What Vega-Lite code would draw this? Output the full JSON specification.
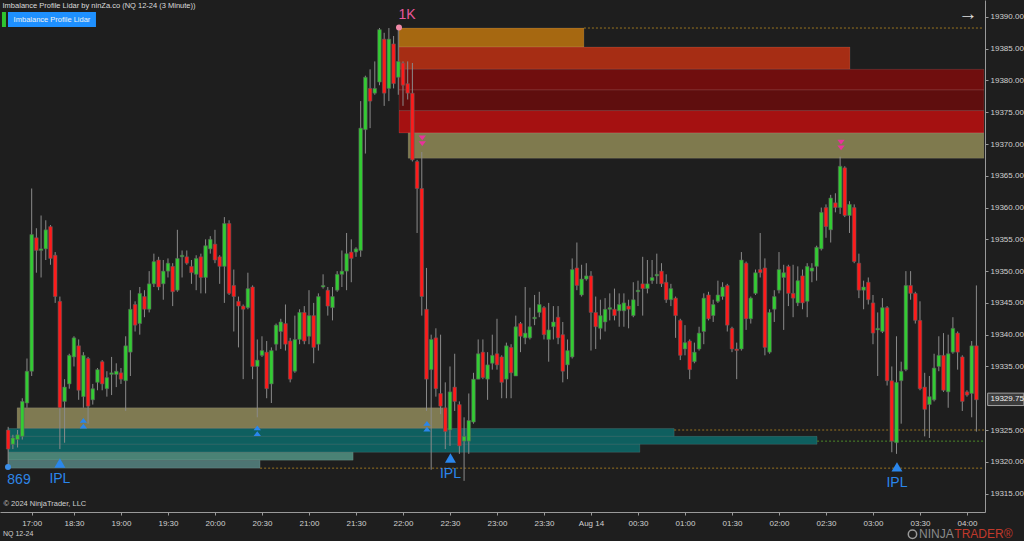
{
"$schema":"https://vega.github.io/schema/vega-lite/v6.json",
"width":985,"height":512,
"autosize":{"type":"none"},
"padding":{"left":0,"top":0,"right":39,"bottom":29},
"background":"#1e1e1e",
"config":{"view":{"stroke":null},"font":"Liberation Sans","text":{"font":"Liberation Sans"},"axis":{"labelOverlap":false},"scale":{"continuousPadding":0}},
"datasets":{
"candles":[
{"k":-14,"o":19325,"h":19325.5,"l":19319.25,"c":19322},
{"k":-13,"o":19322.75,"h":19324.25,"l":19322,"c":19323.75},
{"k":-12,"o":19323.5,"h":19325,"l":19322.25,"c":19324.25},
{"k":-11,"o":19324,"h":19330,"l":19323.5,"c":19329.5},
{"k":-10,"o":19329.25,"h":19336.25,"l":19328.5,"c":19334.25},
{"k":-9,"o":19334.25,"h":19363,"l":19333.5,"c":19355.75},
{"k":-8,"o":19355.25,"h":19356.75,"l":19349.75,"c":19353.25},
{"k":-7,"o":19353.25,"h":19358.75,"l":19349,"c":19353.5},
{"k":-6,"o":19353.5,"h":19358,"l":19351.75,"c":19356.5},
{"k":-5,"o":19357,"h":19357.25,"l":19351,"c":19352},
{"k":-4,"o":19352.5,"h":19353,"l":19345,"c":19346},
{"k":-3,"o":19345.25,"h":19346,"l":19322,"c":19328.5},
{"k":-2,"o":19329.5,"h":19333,"l":19323,"c":19331.75},
{"k":-1,"o":19332.25,"h":19337,"l":19331.5,"c":19336.75},
{"k":0,"o":19336.5,"h":19339.75,"l":19335,"c":19339.5},
{"k":1,"o":19338.25,"h":19339.25,"l":19329.75,"c":19331.25},
{"k":2,"o":19330.25,"h":19337.25,"l":19328.5,"c":19336.75},
{"k":3,"o":19336.25,"h":19336.5,"l":19326,"c":19328.75},
{"k":4,"o":19329.75,"h":19332.25,"l":19329,"c":19331.5},
{"k":5,"o":19332.5,"h":19334.75,"l":19331.25,"c":19334.5},
{"k":6,"o":19335.75,"h":19336,"l":19331.25,"c":19332.25},
{"k":7,"o":19331.5,"h":19334.25,"l":19330.25,"c":19333.25},
{"k":8,"o":19333.75,"h":19336.5,"l":19330.5,"c":19334},
{"k":9,"o":19333.75,"h":19335.5,"l":19331.75,"c":19334.25},
{"k":10,"o":19334,"h":19334.75,"l":19332.25,"c":19333},
{"k":11,"o":19332.75,"h":19339.75,"l":19328,"c":19338.25},
{"k":12,"o":19337.25,"h":19347,"l":19333.5,"c":19344},
{"k":13,"o":19344.75,"h":19345.25,"l":19340.5,"c":19341.5},
{"k":14,"o":19341.75,"h":19347.5,"l":19340,"c":19346.5},
{"k":15,"o":19346,"h":19347,"l":19342.75,"c":19344},
{"k":16,"o":19344,"h":19350,"l":19343.5,"c":19348},
{"k":17,"o":19348,"h":19352.75,"l":19347.5,"c":19351.5},
{"k":18,"o":19351.75,"h":19352.25,"l":19347,"c":19347.5},
{"k":19,"o":19348,"h":19351.75,"l":19345.5,"c":19350},
{"k":20,"o":19350,"h":19352,"l":19349,"c":19351.25},
{"k":21,"o":19350.75,"h":19351.25,"l":19344.5,"c":19346.75},
{"k":22,"o":19347,"h":19356.5,"l":19346.75,"c":19352},
{"k":23,"o":19352.25,"h":19353.25,"l":19349,"c":19352.5},
{"k":24,"o":19352.25,"h":19353.25,"l":19351,"c":19351.25},
{"k":25,"o":19350.75,"h":19351.75,"l":19348,"c":19349.75},
{"k":26,"o":19349.5,"h":19352.5,"l":19347,"c":19352},
{"k":27,"o":19352.25,"h":19352.75,"l":19346.5,"c":19349},
{"k":28,"o":19349,"h":19355,"l":19346.5,"c":19354},
{"k":29,"o":19353.5,"h":19355.5,"l":19352.75,"c":19355},
{"k":30,"o":19354.25,"h":19356.5,"l":19351.25,"c":19351.75},
{"k":31,"o":19352.25,"h":19352.5,"l":19348,"c":19350.75},
{"k":32,"o":19350.75,"h":19358.5,"l":19345,"c":19357.5},
{"k":33,"o":19357.5,"h":19358,"l":19346.25,"c":19346.5},
{"k":34,"o":19347.75,"h":19350.25,"l":19340.5,"c":19346},
{"k":35,"o":19345.25,"h":19346,"l":19338,"c":19344.5},
{"k":36,"o":19344.5,"h":19344.75,"l":19333,"c":19344},
{"k":37,"o":19344.25,"h":19349.75,"l":19344,"c":19347.25},
{"k":38,"o":19347.5,"h":19347.75,"l":19333,"c":19335},
{"k":39,"o":19335,"h":19339.25,"l":19327,"c":19336},
{"k":40,"o":19336.75,"h":19339.75,"l":19336.5,"c":19337.5},
{"k":41,"o":19337.25,"h":19339,"l":19330,"c":19331.5},
{"k":42,"o":19332.25,"h":19338,"l":19329.25,"c":19337.5},
{"k":43,"o":19338.5,"h":19341.75,"l":19337.5,"c":19341.5},
{"k":44,"o":19340.5,"h":19342.5,"l":19337.75,"c":19342},
{"k":45,"o":19341.75,"h":19344.75,"l":19337.5,"c":19338.5},
{"k":46,"o":19339,"h":19339.5,"l":19332.5,"c":19333},
{"k":47,"o":19334.25,"h":19343,"l":19334,"c":19339.25},
{"k":48,"o":19339.25,"h":19344,"l":19338.5,"c":19343.5},
{"k":49,"o":19343.5,"h":19344.5,"l":19338.5,"c":19339},
{"k":50,"o":19339.75,"h":19347,"l":19338.5,"c":19343},
{"k":51,"o":19343,"h":19345,"l":19335.5,"c":19338},
{"k":52,"o":19338.5,"h":19346.5,"l":19337.5,"c":19346},
{"k":53,"o":19347.5,"h":19349.5,"l":19347.25,"c":19347.75},
{"k":54,"o":19347,"h":19347.5,"l":19343,"c":19344.5},
{"k":55,"o":19344.25,"h":19347.5,"l":19342.25,"c":19346},
{"k":56,"o":19347,"h":19350,"l":19346.75,"c":19349.5},
{"k":57,"o":19349.5,"h":19353.25,"l":19347.5,"c":19350},
{"k":58,"o":19350,"h":19356,"l":19347,"c":19352.75},
{"k":59,"o":19353,"h":19355,"l":19348.25,"c":19352},
{"k":60,"o":19353,"h":19353.75,"l":19352.25,"c":19353.5},
{"k":61,"o":19353.25,"h":19376.75,"l":19352.25,"c":19372.5},
{"k":62,"o":19372.25,"h":19380.75,"l":19368.5,"c":19380.5},
{"k":63,"o":19378.75,"h":19381.75,"l":19372.5,"c":19376.75},
{"k":64,"o":19378,"h":19383,"l":19377.75,"c":19378.75},
{"k":65,"o":19379.75,"h":19388.25,"l":19379.25,"c":19388},
{"k":66,"o":19386.5,"h":19387.5,"l":19376,"c":19378},
{"k":67,"o":19378.75,"h":19388.25,"l":19376.75,"c":19386.5},
{"k":68,"o":19385.75,"h":19387,"l":19378.75,"c":19379.5},
{"k":69,"o":19380.5,"h":19388.5,"l":19377.75,"c":19383},
{"k":70,"o":19382.75,"h":19383,"l":19376,"c":19379.25},
{"k":71,"o":19379.5,"h":19383,"l":19377,"c":19378},
{"k":72,"o":19378,"h":19382.75,"l":19367.25,"c":19367.5},
{"k":73,"o":19367.25,"h":19367.5,"l":19356,"c":19363},
{"k":74,"o":19363,"h":19368.75,"l":19343,"c":19346},
{"k":75,"o":19344,"h":19350.5,"l":19328,"c":19333},
{"k":76,"o":19334.5,"h":19340,"l":19318.75,"c":19339.25},
{"k":77,"o":19339.5,"h":19341,"l":19330.25,"c":19331.5},
{"k":78,"o":19330.75,"h":19340,"l":19327.5,"c":19328.75},
{"k":79,"o":19328.5,"h":19332.5,"l":19322,"c":19324.75},
{"k":80,"o":19325,"h":19335,"l":19322.5,"c":19331},
{"k":81,"o":19331.75,"h":19337,"l":19328,"c":19329.5},
{"k":82,"o":19329,"h":19329.5,"l":19321.25,"c":19322.5},
{"k":83,"o":19323.25,"h":19327,"l":19317,"c":19324},
{"k":84,"o":19323.25,"h":19330.75,"l":19321.25,"c":19326.5},
{"k":85,"o":19326.25,"h":19334,"l":19326,"c":19333},
{"k":86,"o":19333,"h":19339.25,"l":19333,"c":19337},
{"k":87,"o":19337.25,"h":19339.25,"l":19333,"c":19333.25},
{"k":88,"o":19333,"h":19337.25,"l":19329.75,"c":19335.25},
{"k":89,"o":19335.5,"h":19340,"l":19334.5,"c":19336.75},
{"k":90,"o":19337,"h":19342.5,"l":19334.5,"c":19335.25},
{"k":91,"o":19336.5,"h":19336.75,"l":19330,"c":19332.5},
{"k":92,"o":19333,"h":19338.75,"l":19330,"c":19338.25},
{"k":93,"o":19338,"h":19338.5,"l":19330,"c":19334},
{"k":94,"o":19333.5,"h":19343,"l":19333.5,"c":19341.25},
{"k":95,"o":19341.75,"h":19342,"l":19337.25,"c":19339.75},
{"k":96,"o":19339.5,"h":19347.5,"l":19338.5,"c":19340.25},
{"k":97,"o":19339.5,"h":19344.25,"l":19339.25,"c":19341.25},
{"k":98,"o":19342.5,"h":19346.25,"l":19341.5,"c":19342.75},
{"k":99,"o":19343.5,"h":19346.75,"l":19342.75,"c":19344.75},
{"k":100,"o":19344.25,"h":19344.5,"l":19339.25,"c":19340},
{"k":101,"o":19339.25,"h":19345,"l":19335.75,"c":19340.75},
{"k":102,"o":19341.25,"h":19344.5,"l":19339.25,"c":19342},
{"k":103,"o":19342.75,"h":19344.5,"l":19338.5,"c":19339.5},
{"k":104,"o":19340,"h":19342,"l":19332.5,"c":19334.25},
{"k":105,"o":19335.25,"h":19339.25,"l":19333,"c":19337.5},
{"k":106,"o":19336.5,"h":19352,"l":19336.25,"c":19350.25},
{"k":107,"o":19350.5,"h":19354.5,"l":19347,"c":19347.75},
{"k":108,"o":19346.25,"h":19351,"l":19346,"c":19348.75},
{"k":109,"o":19348.75,"h":19351.25,"l":19348.5,"c":19349.25},
{"k":110,"o":19349.25,"h":19350,"l":19337.5,"c":19343.5},
{"k":111,"o":19343.5,"h":19346,"l":19337.75,"c":19341.25},
{"k":112,"o":19341,"h":19345.5,"l":19339.25,"c":19343},
{"k":113,"o":19342,"h":19345.75,"l":19340.5,"c":19344},
{"k":114,"o":19344,"h":19346.5,"l":19342.25,"c":19344.25},
{"k":115,"o":19344,"h":19347.25,"l":19342.25,"c":19343},
{"k":116,"o":19343.75,"h":19346.5,"l":19341.25,"c":19344.75},
{"k":117,"o":19343.75,"h":19346.5,"l":19341.25,"c":19345},
{"k":118,"o":19344.5,"h":19345.5,"l":19341,"c":19344},
{"k":119,"o":19343,"h":19348.25,"l":19342.75,"c":19345.5},
{"k":120,"o":19346.75,"h":19348.5,"l":19344.5,"c":19347},
{"k":121,"o":19348,"h":19352.25,"l":19343,"c":19347.25},
{"k":122,"o":19347.25,"h":19351.75,"l":19346.5,"c":19348},
{"k":123,"o":19348.5,"h":19351.75,"l":19348,"c":19349},
{"k":124,"o":19349.25,"h":19352.75,"l":19348,"c":19349.5},
{"k":125,"o":19350,"h":19351.25,"l":19347.5,"c":19348},
{"k":126,"o":19348.25,"h":19349.5,"l":19345,"c":19345.5},
{"k":127,"o":19345.5,"h":19348,"l":19344.5,"c":19347.25},
{"k":128,"o":19345.75,"h":19346,"l":19339.5,"c":19343},
{"k":129,"o":19342.25,"h":19342.5,"l":19336,"c":19336.75},
{"k":130,"o":19337.75,"h":19341.5,"l":19336.75,"c":19338.75},
{"k":131,"o":19339,"h":19339.25,"l":19333,"c":19334.5},
{"k":132,"o":19335.75,"h":19338.75,"l":19335.5,"c":19337.25},
{"k":133,"o":19337.75,"h":19341.25,"l":19337.5,"c":19340.25},
{"k":134,"o":19340.5,"h":19346.5,"l":19338.5,"c":19345.75},
{"k":135,"o":19346.25,"h":19346.75,"l":19342.25,"c":19342.5},
{"k":136,"o":19343,"h":19345.5,"l":19342,"c":19344.75},
{"k":137,"o":19345.25,"h":19348.5,"l":19345,"c":19346.25},
{"k":138,"o":19346,"h":19348.25,"l":19345.5,"c":19347.5},
{"k":139,"o":19347.75,"h":19348,"l":19340.5,"c":19341.5},
{"k":140,"o":19341,"h":19341.25,"l":19337.25,"c":19337.75},
{"k":141,"o":19337.75,"h":19338.75,"l":19333,"c":19337.5},
{"k":142,"o":19337.75,"h":19353,"l":19337.5,"c":19351.75},
{"k":143,"o":19351.25,"h":19351.5,"l":19340.75,"c":19342.5},
{"k":144,"o":19342.5,"h":19346,"l":19341.75,"c":19345.75},
{"k":145,"o":19346.5,"h":19350.25,"l":19346.25,"c":19349.75},
{"k":146,"o":19350.25,"h":19356,"l":19349,"c":19349.75},
{"k":147,"o":19350.5,"h":19352,"l":19336.75,"c":19338},
{"k":148,"o":19337.25,"h":19344,"l":19337,"c":19343.5},
{"k":149,"o":19344,"h":19347,"l":19342,"c":19346},
{"k":150,"o":19347,"h":19353,"l":19346.5,"c":19350.25},
{"k":151,"o":19349,"h":19351,"l":19340.75,"c":19349.75},
{"k":152,"o":19350.75,"h":19351,"l":19344.5,"c":19346.5},
{"k":153,"o":19346.5,"h":19351,"l":19342.75,"c":19345.75},
{"k":154,"o":19345,"h":19350.75,"l":19344.5,"c":19348.5},
{"k":155,"o":19349.25,"h":19350.25,"l":19344,"c":19345},
{"k":156,"o":19345.25,"h":19351.25,"l":19342.75,"c":19350.75},
{"k":157,"o":19350,"h":19351.25,"l":19348.25,"c":19350.5},
{"k":158,"o":19350.75,"h":19354,"l":19348.5,"c":19353.75},
{"k":159,"o":19353.5,"h":19360,"l":19353.25,"c":19359.25},
{"k":160,"o":19360,"h":19360.5,"l":19355.25,"c":19357},
{"k":161,"o":19356.5,"h":19362,"l":19354.5,"c":19361.5},
{"k":162,"o":19360.75,"h":19362.25,"l":19359.25,"c":19360},
{"k":163,"o":19360,"h":19368,"l":19359,"c":19366.5},
{"k":164,"o":19366.25,"h":19366.5,"l":19358.5,"c":19358.75},
{"k":165,"o":19358.75,"h":19361,"l":19356,"c":19360.5},
{"k":166,"o":19360,"h":19360.5,"l":19351.25,"c":19351.5},
{"k":167,"o":19351.25,"h":19352.75,"l":19345.75,"c":19347},
{"k":168,"o":19347,"h":19348.5,"l":19344,"c":19347.5},
{"k":169,"o":19348.25,"h":19349,"l":19344.75,"c":19345.5},
{"k":170,"o":19345,"h":19346.25,"l":19338.5,"c":19340.25},
{"k":171,"o":19340.75,"h":19343.5,"l":19333.5,"c":19341},
{"k":172,"o":19340.5,"h":19345.75,"l":19340.25,"c":19344.25},
{"k":173,"o":19344.25,"h":19344.5,"l":19332,"c":19332.75},
{"k":174,"o":19332.75,"h":19335,"l":19321.5,"c":19323.25},
{"k":175,"o":19323,"h":19339.75,"l":19321.25,"c":19332.5},
{"k":176,"o":19332.75,"h":19335.75,"l":19326,"c":19334.25},
{"k":177,"o":19334.5,"h":19350,"l":19334.25,"c":19347.75},
{"k":178,"o":19347.75,"h":19350,"l":19345.5,"c":19346.5},
{"k":179,"o":19346.5,"h":19346.75,"l":19341.75,"c":19342.25},
{"k":180,"o":19342.25,"h":19345.25,"l":19331.25,"c":19331.5},
{"k":181,"o":19331.75,"h":19334,"l":19324,"c":19328.25},
{"k":182,"o":19329,"h":19333.5,"l":19323.75,"c":19330.25},
{"k":183,"o":19329.75,"h":19337,"l":19329.5,"c":19334.75},
{"k":184,"o":19335,"h":19339.75,"l":19334.25,"c":19336.75},
{"k":185,"o":19336.75,"h":19340.25,"l":19331,"c":19331.25},
{"k":186,"o":19331,"h":19340,"l":19328.5,"c":19337},
{"k":187,"o":19337.25,"h":19342.75,"l":19337,"c":19341},
{"k":188,"o":19340.25,"h":19340.5,"l":19334.5,"c":19337.25},
{"k":189,"o":19336.5,"h":19336.75,"l":19328,"c":19329.5},
{"k":190,"o":19331,"h":19331.25,"l":19330.25,"c":19330.5},
{"k":191,"o":19330.75,"h":19339,"l":19327,"c":19338.25},
{"k":192,"o":19338.25,"h":19347.75,"l":19324.75,"c":19329.75}
],
"zones":[
{"k1":69.15,"k2":108.5,"p1":19388.25,"p2":19385.25,"z":"s1"},
{"k1":69.15,"k2":165.1,"p1":19385.25,"p2":19381.75,"z":"s2"},
{"k1":69.15,"k2":193.6,"p1":19381.75,"p2":19378.5,"z":"s3"},
{"k1":69.15,"k2":193.6,"p1":19378.5,"p2":19375.25,"z":"s4"},
{"k1":69.15,"k2":193.6,"p1":19375.25,"p2":19371.75,"z":"s5"},
{"k1":71.1,"k2":193.6,"p1":19371.75,"p2":19367.75,"z":"s6"},
{"k1":-12.1,"k2":78.5,"p1":19328.5,"p2":19325.25,"z":"d0"},
{"k1":-14,"k2":127.7,"p1":19325.25,"p2":19324,"z":"d1"},
{"k1":-14,"k2":158.1,"p1":19324,"p2":19322.75,"z":"d2"},
{"k1":-14,"k2":120.4,"p1":19322.75,"p2":19321.5,"z":"d3"},
{"k1":-14,"k2":59.4,"p1":19321.5,"p2":19320.25,"z":"d4"},
{"k1":-14,"k2":39.6,"p1":19320.25,"p2":19319,"z":"d5"}
],
"lines":[
{"k1":108.5,"k2":193.6,"p":19388.25,"kind":"o"},
{"k1":127.7,"k2":193.6,"p":19325,"kind":"o"},
{"k1":158.1,"k2":193.6,"p":19323.25,"kind":"g"},
{"k1":39.6,"k2":193.6,"p":19319,"kind":"o"}
],
"ipl":[{"k":-3,"p":19319.8},{"k":80.1,"p":19320.6},{"k":175.1,"p":19319.2}],
"up":[{"k":2,"p":19326.05},{"k":39,"p":19324.9},{"k":75.1,"p":19325.6}],
"down":[{"k":74.1,"p":19370.5},{"k":163.2,"p":19369.85}]
},
"layer":[
{"data":{"name":"zones"},"mark":{"type":"rect","stroke":"#ffffff","strokeOpacity":0.1,"strokeWidth":1},
 "encoding":{"x":{"field":"k1","type":"quantitative","title":null},"x2":{"field":"k2"},
 "y":{"field":"p1","type":"quantitative","title":null},"y2":{"field":"p2"},
 "fill":{"field":"z","type":"nominal","legend":null,"scale":{"domain":["s1","s2","s3","s4","s5","s6","d0","d1","d2","d3","d4","d5"],"range":["#a66811","#a62d14","#700e0e","#5f0e0e","#a51111","#7f7a4e","#7f7a52","#0e5f5f","#0e5f5f","#0e5f5f","#4a8275","#4d7573"]}}}},
{"data":{"name":"lines"},"mark":{"type":"rule","strokeDash":[2,2],"strokeWidth":1},
 "encoding":{"x":{"field":"k1","type":"quantitative","title":null},"x2":{"field":"k2"},
 "y":{"field":"p","type":"quantitative","title":null},
 "stroke":{"field":"kind","type":"nominal","legend":null,"scale":{"domain":["o","g"],"range":["#9a7420","#4d8a2a"]}}}},
{"data":{"name":"candles"},"mark":{"type":"rule","color":"#8a8a8a","strokeWidth":1},
 "encoding":{
 "x":{"field":"k","type":"quantitative","scale":{"domain":[-15.74,193.83],"nice":false,"zero":false,"padding":0},
  "axis":{"title":null,"orient":"bottom","grid":false,"tickCount":30,"values":[-9,0,10,20,30,40,50,60,70,80,90,100,110,120,130,140,150,160,170,180,190],
  "labelExpr":"datum.value < 0 ? '17:00' : ['18:30','19:00','19:30','20:00','20:30','21:00','21:30','22:00','22:30','23:00','23:30','Aug 14','00:30','01:00','01:30','02:00','02:30','03:00','03:30','04:00'][round(datum.value/10)]",
  "labelColor":"#d0d0d0","labelFontSize":8,"labelFont":"Liberation Sans","tickColor":"#9a9a9a","domainColor":"#9a9a9a","tickSize":3,"labelPadding":4,"labelFlush":false,"labelOverlap":false}},
 "y":{"field":"l","type":"quantitative","scale":{"domain":[19312.1,19392.66],"nice":false,"zero":false,"padding":0},
  "axis":{"title":null,"orient":"right","grid":false,"tickCount":20,"values":[19315,19320,19325,19335,19340,19345,19350,19355,19360,19365,19370,19375,19380,19385,19390],
  "format":".2f","labelColor":"#d0d0d0","labelFontSize":8,"labelFont":"Liberation Sans","tickColor":"#9a9a9a","domainColor":"#9a9a9a","tickSize":3,"labelPadding":2,"labelOverlap":false,"labelFlush":false,"labelBound":false}},
 "y2":{"field":"h"}}},
{"data":{"name":"candles"},"mark":{"type":"bar","size":3.6,"stroke":"#5c5c5c","strokeWidth":0.6},
 "encoding":{"x":{"field":"k","type":"quantitative","title":null},
 "y":{"field":"o","type":"quantitative","title":null},"y2":{"field":"c"},
 "fill":{"condition":{"test":"datum.c >= datum.o","value":"#33cc33"},"value":"#ff1a1a"}}},
{"data":{"name":"ipl"},"mark":{"type":"point","shape":"triangle-up","filled":true,"size":120,"color":"#2a86ec","opacity":1},
 "encoding":{"x":{"field":"k","type":"quantitative","title":null},"y":{"field":"p","type":"quantitative","title":null}}},
{"data":{"name":"ipl"},"mark":{"type":"text","text":"IPL","fontSize":14,"color":"#2a86ec","dy":16,"baseline":"middle"},
 "encoding":{"x":{"field":"k","type":"quantitative","title":null},"y":{"field":"p","type":"quantitative","title":null}}},
{"data":{"name":"up"},"mark":{"type":"point","shape":"M-0.7,-0.1L0.7,-0.1L0,-1Z M-0.7,1L0.7,1L0,0.1Z","filled":true,"size":110,"color":"#2a86ec","opacity":1},
 "encoding":{"x":{"field":"k","type":"quantitative","title":null},"y":{"field":"p","type":"quantitative","title":null}}},
{"data":{"name":"down"},"mark":{"type":"point","shape":"M-0.7,-1L0.7,-1L0,-0.1Z M-0.7,0.1L0.7,0.1L0,1Z","filled":true,"size":110,"color":"#e8329a","opacity":1},
 "encoding":{"x":{"field":"k","type":"quantitative","title":null},"y":{"field":"p","type":"quantitative","title":null}}},
{"data":{"values":[{}]},"mark":{"type":"point","filled":true,"size":36,"color":"#f08aa8","opacity":1},
 "encoding":{"x":{"datum":69.15},"y":{"datum":19388.35}}},
{"data":{"values":[{}]},"mark":{"type":"text","text":"1K","fontSize":14,"color":"#e8579a","baseline":"middle","align":"center"},
 "encoding":{"x":{"datum":70.85},"y":{"datum":19390.3}}},
{"data":{"values":[{}]},"mark":{"type":"point","filled":true,"size":36,"color":"#3a8ee8","opacity":1},
 "encoding":{"x":{"datum":-14.04},"y":{"datum":19319.2}}},
{"data":{"values":[{}]},"mark":{"type":"text","text":"869","fontSize":14,"color":"#2e86e6","baseline":"middle","align":"center"},
 "encoding":{"x":{"datum":-11.7},"y":{"datum":19317.1}}},
{"data":{"values":[{}]},"mark":{"type":"text","text":"Imbalance Profile Lidar by ninZa.co (NQ 12-24 (3 Minute))","fontSize":7.5,"color":"#dcdcdc","baseline":"middle","align":"left"},
 "encoding":{"x":{"datum":-15.2},"y":{"datum":19391.7}}},
{"data":{"values":[{}]},"mark":{"type":"rect","color":"#1e90ff"},
 "encoding":{"x":{"datum":-14.04},"x2":{"datum":4.68},"y":{"datum":19390.77},"y2":{"datum":19388.4}}},
{"data":{"values":[{}]},"mark":{"type":"rect","color":"#2fc42f"},
 "encoding":{"x":{"datum":-15.32},"x2":{"datum":-14.47},"y":{"datum":19390.77},"y2":{"datum":19388.4}}},
{"data":{"values":[{}]},"mark":{"type":"text","text":"Imbalance Profile Lidar","fontSize":7.5,"color":"#f0f0f0","baseline":"middle","align":"center"},
 "encoding":{"x":{"datum":-4.68},"y":{"datum":19389.55}}},
{"data":{"values":[{}]},"mark":{"type":"text","text":"→","fontSize":19,"color":"#e0e0e0","baseline":"middle","align":"center"},
 "encoding":{"x":{"datum":190.2},"y":{"datum":19390.45}}},
{"data":{"values":[{}]},"mark":{"type":"text","text":"© 2024 NinjaTrader, LLC","fontSize":7.5,"color":"#d0d0d0","baseline":"middle","align":"left"},
 "encoding":{"x":{"datum":-15.0},"y":{"datum":19313.4}}},
{"data":{"values":[{}]},"mark":{"type":"text","text":"NQ 12-24","fontSize":7,"color":"#d0d0d0","baseline":"middle","align":"left"},
 "encoding":{"x":{"datum":-15.1},"y":{"datum":19308.64}}},
{"data":{"values":[{}]},"mark":{"type":"rect","color":"#3c3c3c","stroke":"#a0a0a0","strokeWidth":1},
 "encoding":{"x":{"datum":194.4},"x2":{"datum":202.1},"y":{"datum":19330.8},"y2":{"datum":19328.85}}},
{"data":{"values":[{}]},"mark":{"type":"text","text":"19329.75","fontSize":8,"color":"#f0f0f0","baseline":"middle","align":"left"},
 "encoding":{"x":{"datum":195.0},"y":{"datum":19329.82}}},
{"data":{"values":[{}]},"mark":{"type":"point","filled":false,"size":70,"color":"#9a9a9a","strokeWidth":1.5,"opacity":1},
 "encoding":{"x":{"datum":178.4},"y":{"datum":19308.6}}},
{"data":{"values":[{}]},"mark":{"type":"text","text":"NINJA","fontSize":12,"color":"#8a8a8a","baseline":"middle","align":"left"},
 "encoding":{"x":{"datum":179.8},"y":{"datum":19308.6}}},
{"data":{"values":[{}]},"mark":{"type":"text","text":"TRADER®","fontSize":12,"color":"#c0392b","baseline":"middle","align":"left"},
 "encoding":{"x":{"datum":187.3},"y":{"datum":19308.6}}}
]
}
